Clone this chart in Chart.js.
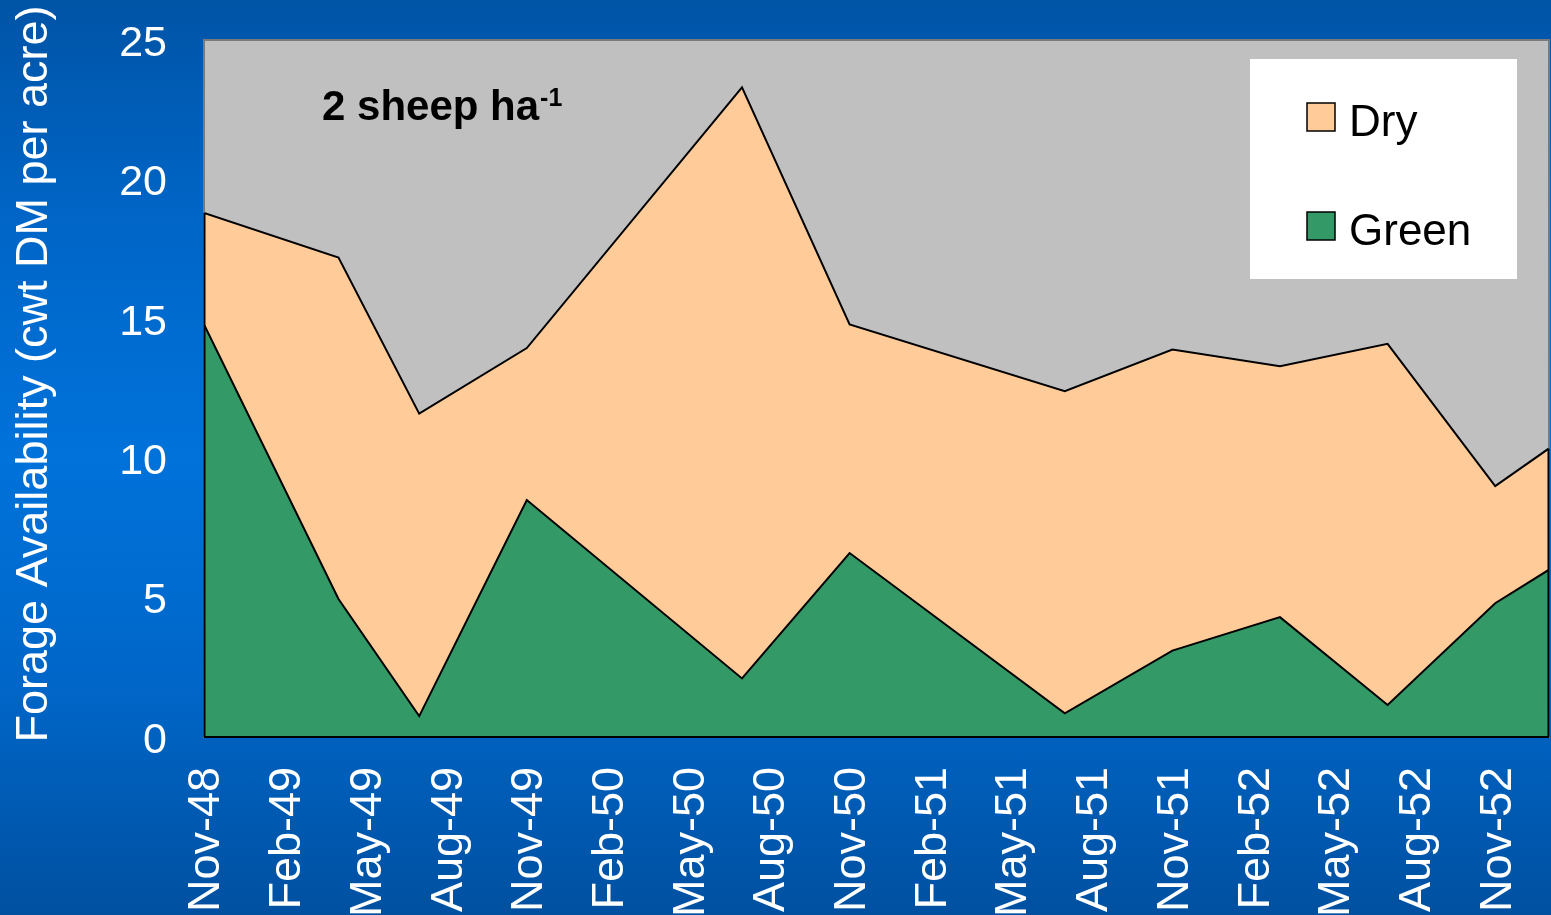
<!DOCTYPE html>
<html>
<head>
<meta charset="utf-8">
<script src="https://cdn.jsdelivr.net/npm/chart.js@4.4.1/dist/chart.umd.min.js"></script>
<style>
  html, body { margin: 0; padding: 0; }
  body { width: 1551px; height: 915px; overflow: hidden;
    background: linear-gradient(to bottom, #0054A6 0%, #0066C8 25%, #0072DA 50%, #0066C8 75%, #0050A0 100%); }
  #wrap { position: absolute; left: 0; top: 0; width: 1551px; height: 915px; }
</style>
</head>
<body>
<div id="wrap"><canvas id="c" width="1551" height="915"></canvas></div>
<script>
// Month index counted from Nov-48
const months = [0, 5, 8, 12, 20, 24, 32, 36, 40, 44, 48, 50];
const greenValues = [14.8, 4.95, 0.75, 8.5, 2.1, 6.6, 0.85, 3.1, 4.3, 1.15, 4.8, 6.0];
const dryValues   = [4.0, 12.25, 10.85, 5.45, 21.2, 8.2, 11.55, 10.8, 9.0, 12.95, 4.2, 4.35];
const tickMonths = [0, 3, 6, 9, 12, 15, 18, 21, 24, 27, 30, 33, 36, 39, 42, 45, 48];
const tickLabels = ['Nov-48','Feb-49','May-49','Aug-49','Nov-49','Feb-50','May-50','Aug-50',
                    'Nov-50','Feb-51','May-51','Aug-51','Nov-51','Feb-52','May-52','Aug-52','Nov-52'];
const yTitle = 'Forage Availability (cwt DM per acre)';
const annotation = '2 sheep ha';
const annotationSup = '-1';

const FONT = '"Liberation Sans", Arial, sans-serif';

const toPts = (vals) => vals.map((v, i) => ({ x: months[i], y: v }));

const decorPlugin = {
  id: 'decor',
  beforeDraw(chart) {
    const { ctx, chartArea: a } = chart;
    ctx.save();
    ctx.fillStyle = '#C0C0C0';
    ctx.fillRect(a.left, a.top, a.right - a.left, a.bottom - a.top);
    ctx.restore();
  },
  afterDatasetsDraw(chart) {
    const { ctx, chartArea: a, scales } = chart;
    const y = scales.y;
    const n = months.length;
    const firstTop = y.getPixelForValue(greenValues[0] + dryValues[0]);
    const lastTop = y.getPixelForValue(greenValues[n - 1] + dryValues[n - 1]);
    ctx.save();
    ctx.strokeStyle = '#7A7A7A';
    ctx.lineWidth = 2;
    ctx.strokeRect(a.left, a.top, a.right - a.left, a.bottom - a.top);
    ctx.strokeStyle = '#000';
    ctx.lineWidth = 2;
    ctx.beginPath();
    ctx.moveTo(a.left + 0.5, a.bottom);
    ctx.lineTo(a.left + 0.5, firstTop);
    ctx.moveTo(a.right - 0.5, a.bottom);
    ctx.lineTo(a.right - 0.5, lastTop);
    ctx.stroke();
    ctx.beginPath();
    ctx.moveTo(a.left, a.bottom);
    ctx.lineTo(a.right, a.bottom);
    ctx.stroke();
    ctx.restore();
  },
  afterDraw(chart) {
    const { ctx } = chart;
    ctx.save();
    ctx.translate(35, 374);
    ctx.rotate(-Math.PI / 2);
    ctx.fillStyle = '#FFFFFF';
    ctx.font = '45px ' + FONT;
    ctx.textAlign = 'center';
    ctx.textBaseline = 'middle';
    ctx.fillText(yTitle, 0, 0);
    ctx.restore();

    ctx.save();
    ctx.fillStyle = '#000';
    ctx.font = 'bold 42px ' + FONT;
    ctx.textAlign = 'left';
    ctx.textBaseline = 'alphabetic';
    ctx.fillText(annotation, 322, 120);
    const w = ctx.measureText(annotation).width;
    ctx.font = 'bold 25px ' + FONT;
    ctx.fillText(annotationSup, 322 + w + 1, 106);
    ctx.restore();

    ctx.save();
    ctx.fillStyle = '#FFFFFF';
    ctx.fillRect(1250, 59, 267, 220);
    const items = [chart.data.datasets[1], chart.data.datasets[0]];
    const rows = [103, 212];
    items.forEach((ds, i) => {
      const yy = rows[i];
      ctx.fillStyle = ds.backgroundColor;
      ctx.fillRect(1307, yy, 28, 28);
      ctx.strokeStyle = '#000';
      ctx.lineWidth = 1.5;
      ctx.strokeRect(1307, yy, 28, 28);
      ctx.fillStyle = '#000';
      ctx.font = '44px ' + FONT;
      ctx.textAlign = 'left';
      ctx.textBaseline = 'alphabetic';
      ctx.fillText(ds.label, 1349, yy + 33);
    });
    ctx.restore();
  }
};

new Chart(document.getElementById('c'), {
  type: 'line',
  data: {
    datasets: [
      {
        label: 'Green',
        data: toPts(greenValues),
        backgroundColor: '#339966',
        borderColor: '#000000',
        borderWidth: 2,
        fill: 'origin',
        pointRadius: 0,
        tension: 0
      },
      {
        label: 'Dry',
        data: toPts(dryValues),
        backgroundColor: '#FFCC99',
        borderColor: '#000000',
        borderWidth: 2,
        fill: '-1',
        pointRadius: 0,
        tension: 0
      }
    ]
  },
  options: {
    responsive: false,
    animation: false,
    events: [],
    layout: { padding: { top: 40, right: 2, left: 0, bottom: 0 } },
    plugins: { legend: { display: false }, tooltip: { enabled: false }, title: { display: false } },
    scales: {
      x: {
        type: 'linear',
        min: 0,
        max: 50,
        grid: { display: false, drawTicks: false },
        border: { display: false },
        afterBuildTicks(scale) { scale.ticks = tickMonths.map(v => ({ value: v })); },
        afterFit(scale) { scale.height = 178; scale.paddingLeft = 0; scale.paddingRight = 0; },
        ticks: {
          autoSkip: false,
          minRotation: 90,
          maxRotation: 90,
          padding: 30,
          labelOffset: 3,
          color: '#FFFFFF',
          font: { family: FONT, size: 45 },
          callback: (v) => { const i = tickMonths.indexOf(v); return i >= 0 ? tickLabels[i] : ''; }
        }
      },
      y: {
        stacked: true,
        min: 0,
        max: 25,
        grid: { display: false, drawTicks: false },
        border: { display: false },
        afterFit(scale) { scale.width = 204; scale.paddingTop = 0; scale.paddingBottom = 0; },
        ticks: {
          stepSize: 5,
          padding: 37,
          labelOffset: 4,
          color: '#FFFFFF',
          font: { family: FONT, size: 43 }
        }
      }
    }
  },
  plugins: [decorPlugin]
});
</script>
</body>
</html>
